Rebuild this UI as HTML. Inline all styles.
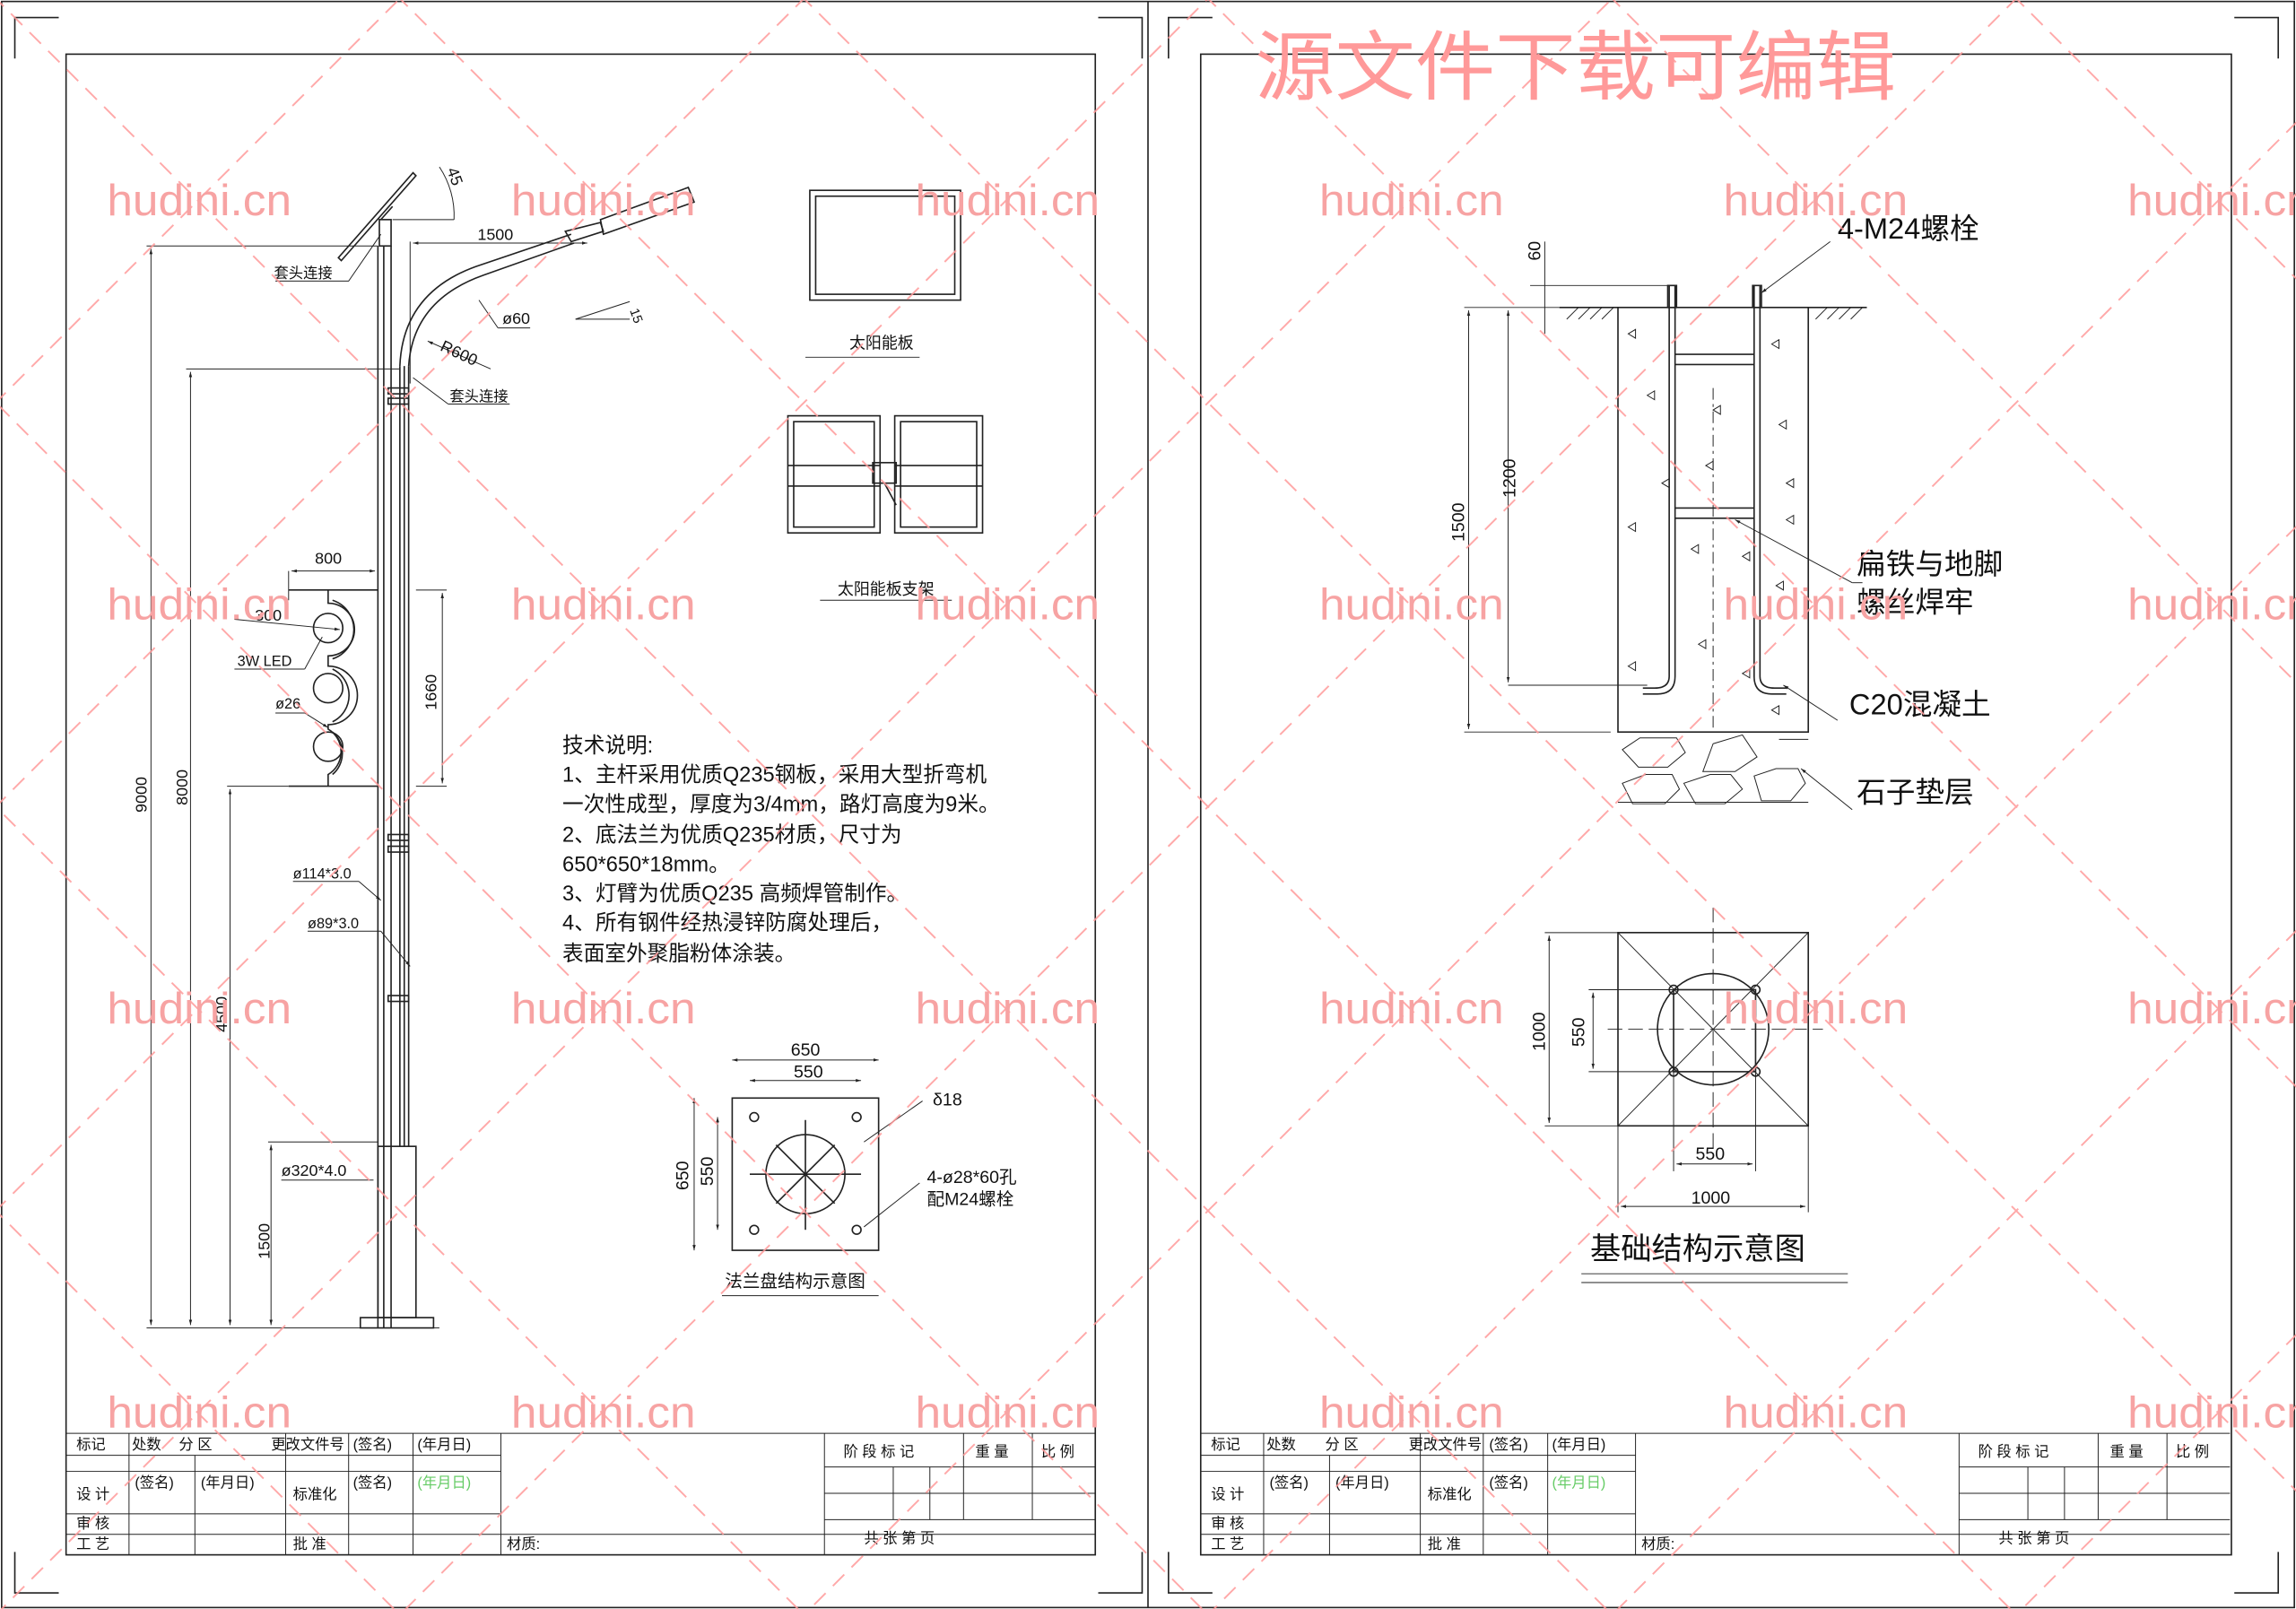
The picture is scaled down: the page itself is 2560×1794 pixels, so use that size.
<!DOCTYPE html>
<html><head><meta charset="utf-8"><style>
html,body{margin:0;padding:0;background:#fff;width:2560px;height:1794px;overflow:hidden}
svg{display:block;overflow:hidden}
text{font-family:"Liberation Sans","Noto Sans CJK SC",sans-serif;fill:#111}
.s{stroke:#222;fill:none;stroke-width:1}
.t{stroke:#222;fill:none;stroke-width:0.6}
text.w{fill:#f7a3a3;font-size:30px}
text.wt{fill:#f99;font-size:52px}
</style></head><body>
<svg width="2560" height="1794" viewBox="0 0 1568 1099" xmlns="http://www.w3.org/2000/svg">
<defs>
<marker id="a" viewBox="0 0 10 10" refX="10" refY="5" markerWidth="6" markerHeight="6" orient="auto-start-reverse"><path d="M0 2 L10 5 L0 8z" fill="#222"/></marker>
</defs>
<rect x="0" y="0" width="1568" height="1099" fill="#fff"/>
<rect x="1" y="1" width="1566" height="1097" class="s"/>
<line x1="784" y1="1" x2="784" y2="1098" class="s"/>
<g class="s">
<polyline points="10,40 10,12 40,12"/><polyline points="750,12 780,12 780,40"/><polyline points="10,1060 10,1088 40,1088"/><polyline points="750,1088 780,1088 780,1060"/>
<polyline points="798,40 798,12 828,12"/><polyline points="1526,12 1556,12 1556,40"/><polyline points="798,1060 798,1088 828,1088"/><polyline points="1526,1088 1556,1088 1556,1060"/>
</g>
<rect x="45" y="37" width="703" height="1025" class="s"/>
<rect x="820" y="37" width="704" height="1025" class="s"/>

<g id="tb" class="t">
<line x1="45" y1="979" x2="748" y2="979"/>
<line x1="45" y1="994" x2="342" y2="994"/>
<line x1="45" y1="1005" x2="342" y2="1005"/>
<line x1="45" y1="1034" x2="342" y2="1034"/>
<line x1="45" y1="1048" x2="748" y2="1048"/>
<line x1="563" y1="1002" x2="748" y2="1002"/>
<line x1="563" y1="1020" x2="748" y2="1020"/>
<line x1="563" y1="1038" x2="748" y2="1038"/>
<line x1="563" y1="979" x2="563" y2="1062"/>
<line x1="342" y1="979" x2="342" y2="1062"/>
<line x1="610" y1="1002" x2="610" y2="1038"/><line x1="635" y1="1002" x2="635" y2="1038"/><line x1="658" y1="979" x2="658" y2="1038"/><line x1="705" y1="979" x2="705" y2="1038"/>
<line x1="88" y1="979" x2="88" y2="1062"/><line x1="133" y1="994" x2="133" y2="1062"/><line x1="195" y1="979" x2="195" y2="1062"/><line x1="238" y1="979" x2="238" y2="1062"/><line x1="282" y1="979" x2="282" y2="1062"/>
</g>
<g font-size="10">
<text x="52" y="990">标记</text><text x="90" y="990">处数</text><text x="122" y="990">分 区</text><text x="185" y="990">更改文件号</text><text x="241" y="990">(签名)</text><text x="285" y="990">(年月日)</text>
<text x="52" y="1024">设 计</text><text x="92" y="1016">(签名)</text><text x="137" y="1016">(年月日)</text><text x="200" y="1024">标准化</text><text x="241" y="1016">(签名)</text><text x="285" y="1016" style="fill:#6c6">(年月日)</text>
<text x="52" y="1044">审 核</text><text x="52" y="1058">工 艺</text><text x="200" y="1058">批 准</text><text x="346" y="1058">材质:</text>
<text x="576" y="995">阶 段 标 记</text><text x="666" y="995">重 量</text><text x="711" y="995">比 例</text>
<text x="590" y="1054">共      张       第       页</text>
</g>
<use href="#tb" x="775"/>
<g font-size="10">
<text x="827" y="990">标记</text><text x="865" y="990">处数</text><text x="905" y="990">分 区</text><text x="962" y="990">更改文件号</text><text x="1017" y="990">(签名)</text><text x="1060" y="990">(年月日)</text>
<text x="827" y="1024">设 计</text><text x="867" y="1016">(签名)</text><text x="912" y="1016">(年月日)</text><text x="975" y="1024">标准化</text><text x="1017" y="1016">(签名)</text><text x="1060" y="1016" style="fill:#6c6">(年月日)</text>
<text x="827" y="1044">审 核</text><text x="827" y="1058">工 艺</text><text x="975" y="1058">批 准</text><text x="1121" y="1058">材质:</text>
<text x="1351" y="995">阶 段 标 记</text><text x="1441" y="995">重 量</text><text x="1486" y="995">比 例</text>
<text x="1365" y="1054">共      张       第       页</text>
</g>

<!-- LEFT: pole -->
<g class="s">
<line x1="258" y1="168" x2="258" y2="907"/><line x1="262" y1="168" x2="262" y2="907"/><line x1="267" y1="168" x2="267" y2="907"/>
<line x1="273" y1="250" x2="273" y2="783"/><line x1="276" y1="250" x2="276" y2="783"/><line x1="279" y1="250" x2="279" y2="783"/>
<rect x="259" y="150" width="8" height="18"/>
<rect x="258" y="783" width="26" height="117"/>
<rect x="246" y="900" width="50" height="7"/>
<path d="M273 250 Q275 200 325 182 L390 160"/><path d="M279 250 Q282 205 330 188 L392 166"/>
<polygon points="386,158 410,152 412,158 390,165"/><polygon points="410,150 470,128 474,138 412,160"/>
<polygon points="231,176 282,118 284,120 233,178"/>
<line x1="260" y1="150" x2="268" y2="141"/>
<rect x="265" y="265" width="14" height="4"/><rect x="265" y="272" width="14" height="4"/>
<rect x="265" y="570" width="14" height="4"/><rect x="265" y="578" width="14" height="4"/>
<rect x="265" y="680" width="14" height="4"/>
<line x1="197" y1="403" x2="258" y2="403"/><line x1="197" y1="537" x2="258" y2="537"/>
<circle cx="224" cy="429" r="10"/><circle cx="224" cy="470" r="10"/><circle cx="224" cy="510" r="10"/>
<path d="M224 403 V412 A18 18 0 0 1 224 448 V455 A18 18 0 0 1 224 495 V498 A18 18 0 0 1 224 529 V537"/>
<path d="M227 410 A21 21 0 0 1 227 450 M227 457 A20 20 0 0 1 227 493 M227 500 A19 19 0 0 1 227 529"/>
</g>
<g class="t">
<line x1="100" y1="168" x2="258" y2="168"/><line x1="103" y1="170" x2="103" y2="905" marker-start="url(#a)" marker-end="url(#a)"/>
<line x1="127" y1="252" x2="273" y2="252"/><line x1="130" y1="254" x2="130" y2="905" marker-start="url(#a)" marker-end="url(#a)"/>
<line x1="155" y1="537" x2="197" y2="537"/><line x1="157" y1="539" x2="157" y2="905" marker-start="url(#a)" marker-end="url(#a)"/>
<line x1="183" y1="780" x2="258" y2="780"/><line x1="185" y1="782" x2="185" y2="905" marker-start="url(#a)" marker-end="url(#a)"/>
<line x1="100" y1="907" x2="300" y2="907"/>
<line x1="284" y1="403" x2="305" y2="403"/><line x1="284" y1="537" x2="305" y2="537"/>
<line x1="302" y1="405" x2="302" y2="535" marker-start="url(#a)" marker-end="url(#a)"/>
<line x1="280" y1="165" x2="280" y2="262"/>
<line x1="282" y1="214" x2="401" y2="214" transform="translate(0,-48)" marker-start="url(#a)" marker-end="url(#a)"/>
<line x1="197" y1="390" x2="197" y2="410"/><line x1="199" y1="390" x2="256" y2="390" marker-start="url(#a)" marker-end="url(#a)"/>
<line x1="393" y1="282" x2="430" y2="270" transform="translate(0,-64)"/><line x1="393" y1="218" x2="430" y2="218"/>
<path d="M300 114 A60 60 0 0 1 310 150"/><line x1="268" y1="150" x2="310" y2="150"/>
<path d="M188 192 H238 L260 160"/><path d="M306 276 H348"/><line x1="306" y1="276" x2="282" y2="258"/>
<path d="M340 224 H362"/><line x1="340" y1="224" x2="327" y2="205"/><line x1="335" y1="252" x2="292" y2="233" marker-end="url(#a)"/>
<line x1="160" y1="457" x2="208" y2="457"/><line x1="208" y1="457" x2="220" y2="435"/>
<line x1="160" y1="423" x2="232" y2="430" marker-end="url(#a)"/>
<line x1="188" y1="487" x2="208" y2="487"/><line x1="208" y1="487" x2="224" y2="497" marker-end="url(#a)"/>
<line x1="200" y1="602" x2="245" y2="602"/><line x1="245" y1="602" x2="260" y2="615" marker-end="url(#a)"/>
<line x1="210" y1="636" x2="260" y2="636"/><line x1="260" y1="636" x2="280" y2="660" marker-end="url(#a)"/>
<line x1="192" y1="806" x2="255" y2="806"/>
</g>
<g font-size="11">
<text x="326" y="164">1500</text><text x="343" y="221">ø60</text><text x="300" y="239" transform="rotate(25 300 239)">R600</text>
<text x="187" y="190" font-size="10">套头连接</text><text x="307" y="274" font-size="10">套头连接</text>
<text x="215" y="385">800</text><text x="174" y="424">300</text><text x="162" y="455" font-size="10">3W LED</text><text x="188" y="484" font-size="10">ø26</text>
<text x="200" y="600" font-size="10">ø114*3.0</text><text x="210" y="634" font-size="10">ø89*3.0</text><text x="192" y="803">ø320*4.0</text>
<text x="100" y="555" transform="rotate(-90 100 555)">9000</text><text x="128" y="550" transform="rotate(-90 128 550)">8000</text>
<text x="155" y="705" transform="rotate(-90 155 705)">4500</text><text x="184" y="860" transform="rotate(-90 184 860)">1500</text>
<text x="298" y="485" transform="rotate(-90 298 485)">1660</text><text x="305" y="116" transform="rotate(70 305 116)">45</text>
<text x="430" y="212" font-size="9" transform="rotate(70 430 212)">15</text>
</g>
<g class="s"><rect x="553" y="130" width="103" height="75"/><rect x="557" y="134" width="95" height="67"/>
<rect x="538" y="284" width="63" height="80"/><rect x="611" y="284" width="60" height="80"/>
<rect x="542" y="288" width="55" height="72"/><rect x="615" y="288" width="52" height="72"/><rect x="596" y="316" width="16" height="14"/>
<line x1="538" y1="318" x2="601" y2="318"/><line x1="611" y1="318" x2="671" y2="318"/><line x1="538" y1="332" x2="601" y2="332"/><line x1="611" y1="332" x2="671" y2="332"/><line x1="604" y1="330" x2="612" y2="345"/></g>
<line x1="550" y1="244" x2="628" y2="244" class="t"/><line x1="560" y1="410" x2="650" y2="410" class="t"/>
<g font-size="11"><text x="580" y="238">太阳能板</text><text x="572" y="406">太阳能板支架</text></g>
<g font-size="14.5"><text x="384" y="514">技术说明:</text>
<text x="384" y="534">1、主杆采用优质Q235钢板，采用大型折弯机</text>
<text x="384" y="554">一次性成型，厚度为3/4mm，路灯高度为9米。</text>
<text x="384" y="575">2、底法兰为优质Q235材质，尺寸为</text>
<text x="384" y="595">650*650*18mm。</text>
<text x="384" y="615">3、灯臂为优质Q235 高频焊管制作。</text>
<text x="384" y="635">4、所有钢件经热浸锌防腐处理后，</text>
<text x="384" y="656">表面室外聚脂粉体涂装。</text></g>
<g class="s"><rect x="500" y="750" width="100" height="104"/><circle cx="550" cy="802" r="27"/>
<line x1="530" y1="782" x2="570" y2="822"/><line x1="570" y1="782" x2="530" y2="822"/>
<line x1="550" y1="765" x2="550" y2="840"/><line x1="512" y1="802" x2="588" y2="802"/>
<circle cx="515" cy="763" r="3"/><circle cx="585" cy="763" r="3"/><circle cx="515" cy="840" r="3"/><circle cx="585" cy="840" r="3"/></g>
<g class="t"><line x1="500" y1="724" x2="600" y2="724" marker-start="url(#a)" marker-end="url(#a)"/><line x1="512" y1="738" x2="588" y2="738" marker-start="url(#a)" marker-end="url(#a)"/><line x1="474" y1="750" x2="474" y2="854" marker-start="url(#a)" marker-end="url(#a)"/><line x1="490" y1="763" x2="490" y2="840" marker-start="url(#a)" marker-end="url(#a)"/>
<line x1="590" y1="780" x2="630" y2="752"/><line x1="590" y1="838" x2="628" y2="808"/><line x1="493" y1="885" x2="600" y2="885"/></g>
<g font-size="12"><text x="540" y="721">650</text><text x="542" y="736">550</text><text x="637" y="755">δ18</text>
<text x="470" y="813" transform="rotate(-90 470 813)">650</text><text x="487" y="810" transform="rotate(-90 487 810)">550</text>
<text x="633" y="808">4-ø28*60孔</text><text x="633" y="823">配M24螺栓</text><text x="495" y="879">法兰盘结构示意图</text></g>

<!-- RIGHT: foundation -->
<g class="s"><line x1="1065" y1="210" x2="1105" y2="210"/><line x1="1235" y1="210" x2="1275" y2="210"/>
<rect x="1105" y="210" width="130" height="290"/>
<path d="M1140 195 L1140 462 Q1140 470 1130 470 L1122 470"/><path d="M1144 195 L1144 462 Q1144 474 1132 474 L1122 474"/>
<path d="M1198 195 L1198 462 Q1198 474 1210 474 L1220 474"/><path d="M1202 195 L1202 462 Q1202 470 1212 470 L1220 470"/>
<rect x="1139" y="195" width="6" height="15"/><rect x="1197" y="195" width="6" height="15"/>
<line x1="1144" y1="242" x2="1198" y2="242"/><line x1="1144" y1="249" x2="1198" y2="249"/><line x1="1144" y1="347" x2="1198" y2="347"/><line x1="1144" y1="354" x2="1198" y2="354"/>
</g>
<line x1="1170" y1="265" x2="1170" y2="500" class="t" stroke-dasharray="8 3 2 3"/>
<g class="t"><path d="M1070 218 l8 -8 M1078 218 l8 -8 M1086 218 l8 -8 M1094 218 l8 -8 M1240 218 l8 -8 M1248 218 l8 -8 M1256 218 l8 -8 M1264 218 l8 -8"/>
<path d="M1112 228 l5 -3 v6z M1125 270 l5 -3 v6z M1210 235 l5 -3 v6z M1135 330 l5 -3 v6z M1215 290 l5 -3 v6z M1165 318 l5 -3 v6z M1220 355 l5 -3 v6z M1112 360 l5 -3 v6z M1155 375 l5 -3 v6z M1190 380 l5 -3 v6z M1213 400 l5 -3 v6z M1160 440 l5 -3 v6z M1112 455 l5 -3 v6z M1210 485 l5 -3 v6z M1190 460 l5 -3 v6z M1170 280 l5 -3 v6z M1220 330 l5 -3 v6z"/>
<path d="M1108 512 l12 -8 h25 l6 10 l-12 10 h-20z M1170 508 l20 -6 l10 15 l-15 10 h-22z M1108 535 l16 -6 h18 l5 10 l-10 10 h-22z M1150 535 l18 -6 h14 l8 10 l-12 10 h-20z M1198 530 l15 -5 h15 l5 10 l-10 12 h-20z M1215 505 h20 M1105 548 h130"/>
<line x1="1000" y1="210" x2="1065" y2="210"/><line x1="1003" y1="212" x2="1003" y2="498" marker-start="url(#a)" marker-end="url(#a)"/><line x1="1000" y1="500" x2="1100" y2="500"/>
<line x1="1030" y1="212" x2="1030" y2="466" marker-start="url(#a)" marker-end="url(#a)"/><line x1="1030" y1="468" x2="1125" y2="468"/>
<line x1="1045" y1="195" x2="1140" y2="195"/><line x1="1055" y1="165" x2="1055" y2="228"/>
<line x1="1250" y1="165" x2="1203" y2="200" marker-end="url(#a)"/><line x1="1265" y1="398" x2="1185" y2="355" marker-end="url(#a)"/><line x1="1265" y1="398" x2="1272" y2="398"/>
<line x1="1255" y1="492" x2="1218" y2="468" marker-end="url(#a)"/><line x1="1265" y1="553" x2="1230" y2="525" marker-end="url(#a)"/></g>
<g font-size="12"><text x="1052" y="178" transform="rotate(-90 1052 178)">60</text><text x="1035" y="340" transform="rotate(-90 1035 340)">1200</text><text x="1000" y="370" transform="rotate(-90 1000 370)">1500</text></g>
<g font-size="20"><text x="1255" y="163">4-M24螺栓</text><text x="1268" y="392">扁铁与地脚</text><text x="1268" y="418">螺丝焊牢</text><text x="1263" y="488">C20混凝土</text><text x="1268" y="548">石子垫层</text></g>
<g class="s"><rect x="1105" y="637" width="130" height="132"/><circle cx="1170" cy="703" r="38"/><rect x="1143" y="676" width="56" height="56"/>
<circle cx="1143" cy="676" r="3"/><circle cx="1199" cy="676" r="3"/><circle cx="1143" cy="732" r="3"/><circle cx="1199" cy="732" r="3"/></g>
<g class="t"><line x1="1105" y1="637" x2="1235" y2="769"/><line x1="1235" y1="637" x2="1105" y2="769"/>
<line x1="1098" y1="703" x2="1245" y2="703" stroke-dasharray="10 4"/><line x1="1170" y1="620" x2="1170" y2="790" stroke-dasharray="10 4"/>
<line x1="1055" y1="637" x2="1105" y2="637"/><line x1="1055" y1="769" x2="1105" y2="769"/><line x1="1058" y1="639" x2="1058" y2="767" marker-start="url(#a)" marker-end="url(#a)"/><line x1="1085" y1="676" x2="1143" y2="676"/><line x1="1085" y1="732" x2="1143" y2="732"/><line x1="1088" y1="678" x2="1088" y2="730" marker-start="url(#a)" marker-end="url(#a)"/>
<line x1="1143" y1="732" x2="1143" y2="800"/><line x1="1199" y1="732" x2="1199" y2="800"/><line x1="1105" y1="769" x2="1105" y2="828"/><line x1="1235" y1="769" x2="1235" y2="828"/>
<line x1="1145" y1="795" x2="1197" y2="795" marker-start="url(#a)" marker-end="url(#a)"/><line x1="1107" y1="824" x2="1233" y2="824" marker-start="url(#a)" marker-end="url(#a)"/><line x1="1080" y1="870" x2="1262" y2="870"/><line x1="1080" y1="876" x2="1262" y2="876"/></g>
<g font-size="12"><text x="1055" y="718" transform="rotate(-90 1055 718)">1000</text><text x="1082" y="715" transform="rotate(-90 1082 715)">550</text><text x="1158" y="792">550</text><text x="1155" y="822">1000</text></g>
<text x="1086" y="860" font-size="21">基础结构示意图</text>

<!-- watermark -->
<g stroke="#ff9b9b" stroke-width="1.2" stroke-dasharray="11 7" opacity="0.85">
<line x1="-1100" y1="-1098" x2="2700" y2="2702"/><line x1="-824" y1="-1098" x2="2976" y2="2702"/><line x1="-548" y1="-1098" x2="3252" y2="2702"/>
<line x1="-272" y1="-1098" x2="3528" y2="2702"/><line x1="4" y1="-1098" x2="3804" y2="2702"/><line x1="280" y1="-1098" x2="4080" y2="2702"/>
<line x1="-1376" y1="-1098" x2="2424" y2="2702"/><line x1="-1652" y1="-1098" x2="2148" y2="2702"/><line x1="-1928" y1="-1098" x2="1872" y2="2702"/>
<line x1="-2204" y1="-1098" x2="1596" y2="2702"/><line x1="-2480" y1="-1098" x2="1320" y2="2702"/><line x1="-2756" y1="-1098" x2="1044" y2="2702"/>
<line x1="-4" y1="276" x2="3800" y2="-3528"/><line x1="-4" y1="552" x2="3800" y2="-3252"/><line x1="-4" y1="828" x2="3800" y2="-2976"/><line x1="-4" y1="1104" x2="3800" y2="-2700"/>
<line x1="-4" y1="1380" x2="3800" y2="-2424"/><line x1="-4" y1="1656" x2="3800" y2="-2148"/><line x1="-4" y1="1932" x2="3800" y2="-1872"/><line x1="-4" y1="2208" x2="3800" y2="-1596"/>
<line x1="-4" y1="2484" x2="3800" y2="-1320"/><line x1="-4" y1="2760" x2="3800" y2="-1044"/><line x1="-4" y1="0" x2="3800" y2="-3804"/>
</g>
<g>
<text class="w" x="73" y="147" textLength="126" lengthAdjust="spacingAndGlyphs">hudini.cn</text><text class="w" x="349" y="147" textLength="126" lengthAdjust="spacingAndGlyphs">hudini.cn</text><text class="w" x="625" y="147" textLength="126" lengthAdjust="spacingAndGlyphs">hudini.cn</text><text class="w" x="901" y="147" textLength="126" lengthAdjust="spacingAndGlyphs">hudini.cn</text><text class="w" x="1177" y="147" textLength="126" lengthAdjust="spacingAndGlyphs">hudini.cn</text><text class="w" x="1453" y="147" textLength="126" lengthAdjust="spacingAndGlyphs">hudini.cn</text>
<text class="w" x="73" y="423" textLength="126" lengthAdjust="spacingAndGlyphs">hudini.cn</text><text class="w" x="349" y="423" textLength="126" lengthAdjust="spacingAndGlyphs">hudini.cn</text><text class="w" x="625" y="423" textLength="126" lengthAdjust="spacingAndGlyphs">hudini.cn</text><text class="w" x="901" y="423" textLength="126" lengthAdjust="spacingAndGlyphs">hudini.cn</text><text class="w" x="1177" y="423" textLength="126" lengthAdjust="spacingAndGlyphs">hudini.cn</text><text class="w" x="1453" y="423" textLength="126" lengthAdjust="spacingAndGlyphs">hudini.cn</text>
<text class="w" x="73" y="699" textLength="126" lengthAdjust="spacingAndGlyphs">hudini.cn</text><text class="w" x="349" y="699" textLength="126" lengthAdjust="spacingAndGlyphs">hudini.cn</text><text class="w" x="625" y="699" textLength="126" lengthAdjust="spacingAndGlyphs">hudini.cn</text><text class="w" x="901" y="699" textLength="126" lengthAdjust="spacingAndGlyphs">hudini.cn</text><text class="w" x="1177" y="699" textLength="126" lengthAdjust="spacingAndGlyphs">hudini.cn</text><text class="w" x="1453" y="699" textLength="126" lengthAdjust="spacingAndGlyphs">hudini.cn</text>
<text class="w" x="73" y="975" textLength="126" lengthAdjust="spacingAndGlyphs">hudini.cn</text><text class="w" x="349" y="975" textLength="126" lengthAdjust="spacingAndGlyphs">hudini.cn</text><text class="w" x="625" y="975" textLength="126" lengthAdjust="spacingAndGlyphs">hudini.cn</text><text class="w" x="901" y="975" textLength="126" lengthAdjust="spacingAndGlyphs">hudini.cn</text><text class="w" x="1177" y="975" textLength="126" lengthAdjust="spacingAndGlyphs">hudini.cn</text><text class="w" x="1453" y="975" textLength="126" lengthAdjust="spacingAndGlyphs">hudini.cn</text>
</g>
<text class="wt" x="857" y="64" textLength="438" lengthAdjust="spacingAndGlyphs">源文件下载可编辑</text>
</svg>
</body></html>
